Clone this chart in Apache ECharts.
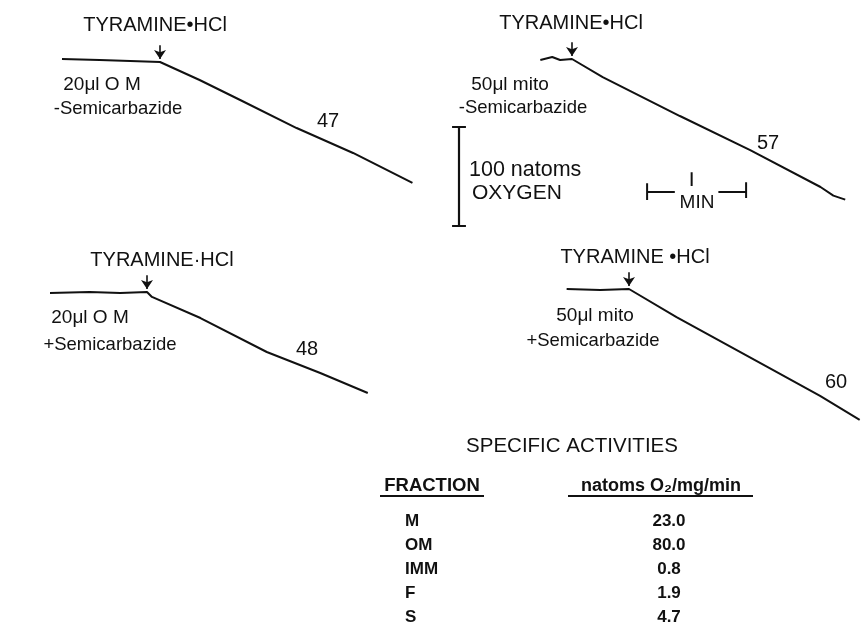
<!DOCTYPE html>
<html>
<head>
<meta charset="utf-8">
<script src="https://cdn.jsdelivr.net/npm/echarts@6/dist/echarts.min.js"></script>
<style>html,body{margin:0;padding:0;background:#fff}#c{width:862px;height:630px}</style>
</head>
<body>
<div id="c"></div>
<script>
// ---- Data: oxygen electrode traces, [minutes relative to tyramine addition, natoms O2 consumed] ----
const traceOM_noSemi = [[-0.99,-3],[-0.61,-2],[-0.30,-1],[0,0],[0.40,18.2],[0.81,38.4],[1.38,66.7],[1.95,91.9],[2.55,122.2]];
const traceMito_noSemi = [[-0.32,1],[-0.20,-2],[-0.12,1],[0,0],[0.31,18.2],[1.09,57.6],[1.80,92],[2.51,129.3],[2.64,138],[2.76,142]];
const traceOM_semi = [[-0.98,1],[-0.58,0],[-0.27,1],[0,0],[0.05,5],[0.54,26.3],[1.21,60.6],[1.75,81.8],[2.23,102]];
const traceMito_semi = [[-0.63,0],[-0.29,1],[0,0],[0.48,28.3],[1.42,79.8],[1.93,108],[2.33,132.3]];
const rateLabels = ['47', '57', '48', '60'];
const sampleLabels = ['20μl O M', '50μl mito', '20μl O M', '50μl mito'];
const treatmentLabels = ['-Semicarbazide', '-Semicarbazide', '+Semicarbazide', '+Semicarbazide'];
const additionLabels = ['TYRAMINE•HCl', 'TYRAMINE•HCl', 'TYRAMINE·HCl', 'TYRAMINE •HCl'];
// scale bars
const scaleNatoms = 100;  // natoms oxygen
const scaleMinutes = 1;   // min
// table
const tableTitle = 'SPECIFIC ACTIVITIES';
const tableHeaders = ['FRACTION', 'natoms O₂/mg/min'];
const fractions = ['M', 'OM', 'IMM', 'F', 'S'];
const activities = ['23.0', '80.0', '0.8', '1.9', '4.7'];

// ---- Layout ----
const W = 862;
const PX_MIN = 99, PX_NAT = 0.99;
const FONT = '"Liberation Sans", Arial, sans-serif';
const traces = [traceOM_noSemi, traceMito_noSemi, traceOM_semi, traceMito_semi];
const injections = [[160,62],[572,59],[147,292],[629,289]]; // pixel position of addition point
const X0 = -1.2, Y0 = -40, Y1 = 160;

const grids = [], xAxes = [], yAxes = [], series = [];
injections.forEach((p, i) => {
  const X1 = Math.min(3.0, (W - 1 - p[0]) / PX_MIN);
  grids.push({left: p[0] + X0 * PX_MIN, top: p[1] + Y0 * PX_NAT, width: (X1 - X0) * PX_MIN, height: (Y1 - Y0) * PX_NAT, show: false});
  xAxes.push({type: 'value', gridIndex: i, min: X0, max: X1, show: false});
  yAxes.push({type: 'value', gridIndex: i, min: Y0, max: Y1, inverse: true, show: false});
  series.push({
    type: 'line', xAxisIndex: i, yAxisIndex: i, data: traces[i], showSymbol: false, symbol: 'none',
    smooth: false, clip: false, silent: true, animation: false,
    lineStyle: {color: '#111', width: 2},
    markLine: {
      silent: true, animation: false, symbol: ['none', 'arrow'], symbolSize: 9,
      lineStyle: {color: '#111', width: 1.6, type: 'solid'}, label: {show: false},
      data: [[{coord: [0, -17]}, {coord: [0, -3]}]]
    }
  });
});

// scale-bar grid
const SG = 4;
const sOrigin = [459, 127];
grids.push({left: sOrigin[0] - 0.2 * PX_MIN, top: sOrigin[1] - 20 * PX_NAT, width: 3.4 * PX_MIN, height: 140 * PX_NAT, show: false});
xAxes.push({type: 'value', gridIndex: SG, min: -0.2, max: 3.2, show: false});
yAxes.push({type: 'value', gridIndex: SG, min: -20, max: 120, inverse: true, show: false});
const minStart = 1.90, minY = 65.7;
const segs = [
  [[0, 0], [0, scaleNatoms]],
  [[-0.07, 0], [0.07, 0]],
  [[-0.07, scaleNatoms], [0.07, scaleNatoms]],
  [[minStart, minY], [minStart + 0.28 * scaleMinutes, minY]],
  [[minStart + 0.72 * scaleMinutes, minY], [minStart + scaleMinutes, minY]],
  [[minStart, minY - 9], [minStart, minY + 8]],
  [[minStart + scaleMinutes, minY - 10], [minStart + scaleMinutes, minY + 6]],
  [[minStart + 0.45 * scaleMinutes, minY - 20], [minStart + 0.45 * scaleMinutes, minY - 6]]
];
segs.forEach((s, k) => series.push({
  type: 'line', xAxisIndex: SG, yAxisIndex: SG, data: s, showSymbol: false, symbol: 'none',
  silent: true, animation: false, clip: false,
  lineStyle: {color: '#111', width: k === 0 ? 2.2 : 2}
}));

function txt(str, x, y, size, align, weight) {
  return {type: 'text', x: x, y: y, silent: true, style: {
    text: str, fill: '#111', font: (weight || 'normal') + ' ' + size + 'px ' + FONT,
    textAlign: align || 'center', textVerticalAlign: 'middle'}};
}
const graphics = [];
const addPos = [[155,25],[571,23],[162,260],[635,257]];
const samplePos = [[102,85],[510,85],[90,318],[595,316]];
const treatPos = [[118,109],[523,108],[110,345],[593,341]];
const ratePos = [[328,121],[768,143],[307,349],[836,382]];
for (let i = 0; i < 4; i++) {
  graphics.push(txt(additionLabels[i], addPos[i][0], addPos[i][1], 20));
  graphics.push(txt(sampleLabels[i], samplePos[i][0], samplePos[i][1], 19));
  graphics.push(txt(treatmentLabels[i], treatPos[i][0], treatPos[i][1], 18.5));
  graphics.push(txt(rateLabels[i], ratePos[i][0], ratePos[i][1], 20));
}
graphics.push(txt(scaleNatoms + ' natoms', 469, 170, 21.5, 'left'));
graphics.push(txt('OXYGEN', 472, 193, 21, 'left'));
graphics.push(txt('MIN', 697, 203, 19));

// table
graphics.push(txt(tableTitle, 572, 446, 20.5));
graphics.push(txt(tableHeaders[0], 432, 486, 18.5, 'center', 'bold'));
graphics.push(txt(tableHeaders[1], 661, 486, 18, 'center', 'bold'));
graphics.push({type: 'line', silent: true, shape: {x1: 380, y1: 496, x2: 484, y2: 496}, style: {stroke: '#111', lineWidth: 2}});
graphics.push({type: 'line', silent: true, shape: {x1: 568, y1: 496, x2: 753, y2: 496}, style: {stroke: '#111', lineWidth: 2}});
const rowY = [521, 545, 569, 593, 617];
fractions.forEach((f, i) => {
  graphics.push(txt(f, 405, rowY[i], 17, 'left', 'bold'));
  graphics.push(txt(activities[i], 669, rowY[i], 17, 'center', 'bold'));
});

const chart = echarts.init(document.getElementById('c'), null, {renderer: 'canvas'});
chart.setOption({
  backgroundColor: '#fff',
  animation: false,
  grid: grids, xAxis: xAxes, yAxis: yAxes, series: series,
  graphic: graphics
});
</script>
</body>
</html>
